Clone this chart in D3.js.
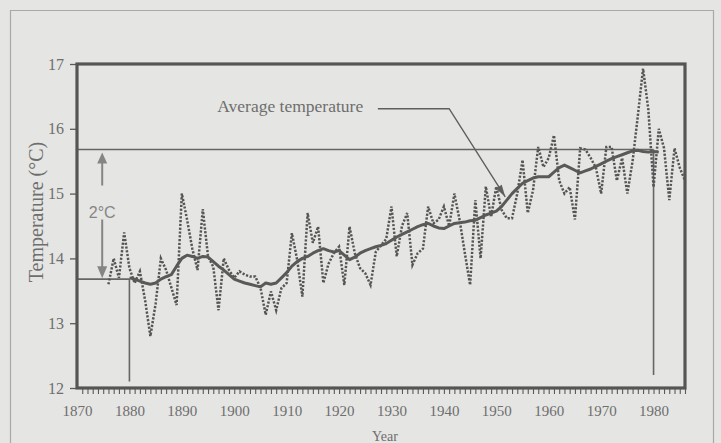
<!DOCTYPE html>
<html>
<head>
<meta charset="utf-8">
<script src="https://cdn.jsdelivr.net/npm/d3@7/dist/d3.min.js"></script>
<style>
  html, body { margin: 0; padding: 0; background: #e5e5e3; }
  svg { display: block; }
</style>
</head>
<body>
<svg id="chart" width="721" height="443"></svg>
<script>
// ---------- data ----------
const annualYears = d3.range(1876, 1987);
const annualTemps = [
  13.60, 14.00, 13.70, 14.40, 13.85, 13.62, 13.80, 13.35, 12.80, 13.30,
  14.00, 13.82, 13.55, 13.28, 15.00, 14.60, 14.15, 13.82, 14.76, 14.03,
  13.87, 13.20, 14.00, 13.82, 13.70, 13.80, 13.75, 13.72, 13.72, 13.55,
  13.13, 13.49, 13.20, 13.54, 13.62, 14.39, 13.98, 13.41, 14.70, 14.24,
  14.49, 13.62, 13.92, 14.08, 14.18, 13.59, 14.49, 14.08, 13.85, 13.77,
  13.59, 14.10, 14.20, 14.30, 14.80, 14.03, 14.50, 14.70, 13.90, 14.08,
  14.15, 14.80, 14.54, 14.60, 14.80, 14.50, 15.00, 14.59, 14.08, 13.59,
  14.90, 14.00, 15.11, 14.64, 15.11, 14.75, 14.62, 14.62, 15.00, 15.52,
  14.70, 15.05, 15.72, 15.41, 15.55, 15.90, 15.20, 15.00, 15.10, 14.60,
  15.70, 15.68, 15.55, 15.40, 15.00, 15.72, 15.72, 15.20, 15.55, 15.00,
  15.50, 16.20, 16.93, 16.30, 15.10, 16.00, 15.70, 14.90, 15.70, 15.40,
  15.20
];
const avgYears = d3.range(1880, 1982);
const avgTemps = [
  13.70, 13.68, 13.65, 13.62, 13.60, 13.62, 13.68, 13.72, 13.75, 13.88,
  14.00, 14.05, 14.03, 14.00, 14.03, 14.02, 13.95, 13.88, 13.82, 13.75,
  13.68, 13.65, 13.62, 13.60, 13.58, 13.56, 13.62, 13.60, 13.62, 13.70,
  13.78, 13.88, 13.95, 14.00, 14.03, 14.08, 14.12, 14.15, 14.12, 14.10,
  14.12, 14.05, 13.98, 14.02, 14.08, 14.12, 14.15, 14.18, 14.20, 14.23,
  14.28, 14.33, 14.37, 14.41, 14.45, 14.49, 14.52, 14.54, 14.50, 14.47,
  14.46, 14.50, 14.54, 14.55, 14.56, 14.58, 14.59, 14.63, 14.67, 14.70,
  14.73, 14.80, 14.90, 15.00, 15.08, 15.16, 15.20, 15.24, 15.26, 15.26,
  15.26, 15.33, 15.40, 15.44, 15.40, 15.36, 15.32, 15.35, 15.38, 15.42,
  15.46, 15.50, 15.54, 15.57, 15.60, 15.63, 15.66, 15.67, 15.65, 15.64,
  15.65, 15.64
];
const xTickYears = [1870, 1880, 1890, 1900, 1910, 1920, 1930, 1940, 1950, 1960, 1970, 1980];
const yTickValues = [12, 13, 14, 15, 16, 17];
const refYears = [1880, 1980];
const refTemps = [13.68, 15.68];
const labelText = "Average temperature";
const labelPos = [1924.6, 16.26];          // year, temp of text end / baseline
const leader = [[1927.4, 16.31], [1941.0, 16.31], [1951.7, 14.95]];
const arrowYear = 1875;

// ---------- layout ----------
const svg = d3.select("#chart");
const W = 721, H = 443;
const mLeft = 77, mRight = 685, mTop = 64, mBottom = 388;
const ink = "#5a5a5a", textCol = "#6e6e6e";

const x = d3.scaleLinear().domain([1870, 1986]).range([mLeft, mRight]);
const y = d3.scaleLinear().domain([12, 17]).range([mBottom, mTop]);

svg.append("rect").attr("width", W).attr("height", H).attr("fill", "#e5e5e3");
// outer border
svg.append("path")
  .attr("d", `M10.5,${H + 5} V10.5 H713.5 V${H + 5}`)
  .attr("fill", "none").attr("stroke", "#a9a9a7").attr("stroke-width", 1.2);

// minor year ticks on bottom
const minor = d3.axisBottom(x).tickValues(d3.range(1871, 1987)).tickSize(5).tickFormat("");
const gMinor = svg.append("g").attr("transform", `translate(0,${mBottom + 1})`).call(minor);
gMinor.select(".domain").remove();
gMinor.selectAll("line").attr("stroke", ink).attr("stroke-width", 1.1);

// x axis labels
const xAxis = d3.axisBottom(x).tickValues(xTickYears).tickSize(0).tickPadding(17).tickFormat(d3.format("d"));
const gx = svg.append("g").attr("transform", `translate(0,${mBottom})`).call(xAxis);
gx.select(".domain").remove();
gx.selectAll("text").attr("fill", textCol).attr("font-family", "Liberation Serif, serif").attr("font-size", 15);

// y axis
const yAxis = d3.axisLeft(y).tickValues(yTickValues).tickSize(6).tickPadding(6).tickFormat(d3.format("d"));
const gy = svg.append("g").attr("transform", `translate(${mLeft - 1},0)`).call(yAxis);
gy.select(".domain").remove();
gy.selectAll("line").attr("stroke", ink).attr("stroke-width", 1.3);
gy.selectAll("text").attr("fill", textCol).attr("font-family", "Liberation Serif, serif").attr("font-size", 16);

// axis titles
svg.append("text")
  .attr("transform", `translate(43,212) rotate(-90)`)
  .attr("text-anchor", "middle")
  .attr("fill", textCol).attr("font-family", "Liberation Serif, serif").attr("font-size", 20)
  .text("Temperature (°C)");
svg.append("text")
  .attr("x", (mLeft + mRight) / 2 + 4).attr("y", 441)
  .attr("text-anchor", "middle")
  .attr("fill", textCol).attr("font-family", "Liberation Serif, serif").attr("font-size", 14)
  .text("Year");

// reference lines
svg.append("line")
  .attr("x1", mLeft).attr("x2", x(refYears[1]))
  .attr("y1", y(refTemps[1])).attr("y2", y(refTemps[1]))
  .attr("stroke", "#666").attr("stroke-width", 1.6);
svg.append("line")
  .attr("x1", mLeft).attr("x2", x(refYears[0]))
  .attr("y1", y(refTemps[0])).attr("y2", y(refTemps[0]))
  .attr("stroke", "#666").attr("stroke-width", 1.8);
svg.append("line")
  .attr("x1", x(refYears[0])).attr("x2", x(refYears[0]))
  .attr("y1", y(refTemps[0])).attr("y2", y(12.1))
  .attr("stroke", "#666").attr("stroke-width", 1.6);
svg.append("line")
  .attr("x1", x(refYears[1])).attr("x2", x(refYears[1]))
  .attr("y1", y(refTemps[1])).attr("y2", y(12.2))
  .attr("stroke", "#666").attr("stroke-width", 1.6);

// 2°C arrows
const ax = x(arrowYear) - 1;
const arrowCol = "#858585";
const yHi = y(refTemps[1]), yLo = y(refTemps[0]);
svg.append("line").attr("x1", ax).attr("x2", ax).attr("y1", yHi + 12).attr("y2", yHi + 36)
  .attr("stroke", arrowCol).attr("stroke-width", 2);
svg.append("path").attr("d", `M${ax},${yHi + 3} L${ax - 5},${yHi + 14} L${ax + 5},${yHi + 14} Z`).attr("fill", arrowCol);
svg.append("line").attr("x1", ax).attr("x2", ax).attr("y1", yHi + 70).attr("y2", yLo - 12)
  .attr("stroke", arrowCol).attr("stroke-width", 2);
svg.append("path").attr("d", `M${ax},${yLo - 1} L${ax - 5},${yLo - 13} L${ax + 5},${yLo - 13} Z`).attr("fill", arrowCol);
svg.append("text")
  .attr("x", ax).attr("y", (yHi + yLo) / 2 - 1)
  .attr("text-anchor", "middle").attr("dominant-baseline", "middle")
  .attr("fill", arrowCol).attr("font-family", "Liberation Sans, Arial, sans-serif").attr("font-size", 16)
  .text("2°C");

// series
const line = d3.line().x(d => x(d[0])).y(d => y(d[1]));
const annual = annualYears.map((yr, i) => [yr, annualTemps[i]]);
const avg = avgYears.map((yr, i) => [yr, avgTemps[i]]);

svg.append("path").datum(annual).attr("d", line)
  .attr("fill", "none").attr("stroke", "#555").attr("stroke-width", 2.5)
  .attr("stroke-dasharray", "2.2,1.6");
svg.append("path").datum(avg).attr("d", line)
  .attr("fill", "none").attr("stroke", "#595959").attr("stroke-width", 3)
  .attr("stroke-linejoin", "round");

// annotation
svg.append("text")
  .attr("x", x(labelPos[0])).attr("y", y(labelPos[1]))
  .attr("text-anchor", "end")
  .attr("fill", textCol).attr("font-family", "Liberation Serif, serif").attr("font-size", 17.5)
  .text(labelText);
const lp = leader.map(d => [x(d[0]), y(d[1])]);
svg.append("path").attr("d", d3.line()(lp))
  .attr("fill", "none").attr("stroke", "#5f5f5f").attr("stroke-width", 1.4);
{
  const [p1, p2] = [lp[1], lp[2]];
  const ang = Math.atan2(p2[1] - p1[1], p2[0] - p1[0]);
  const L = 12, Wd = 3.5;
  const bx = p2[0] - L * Math.cos(ang), by = p2[1] - L * Math.sin(ang);
  const nx = -Math.sin(ang) * Wd, ny = Math.cos(ang) * Wd;
  svg.append("path")
    .attr("d", `M${p2[0]},${p2[1]} L${bx + nx},${by + ny} L${bx - nx},${by - ny} Z`)
    .attr("fill", "#5f5f5f");
}

// frame
svg.append("rect")
  .attr("x", mLeft).attr("y", mTop).attr("width", mRight - mLeft).attr("height", mBottom - mTop)
  .attr("fill", "none").attr("stroke", "#555").attr("stroke-width", 3.2);
</script>
</body>
</html>
